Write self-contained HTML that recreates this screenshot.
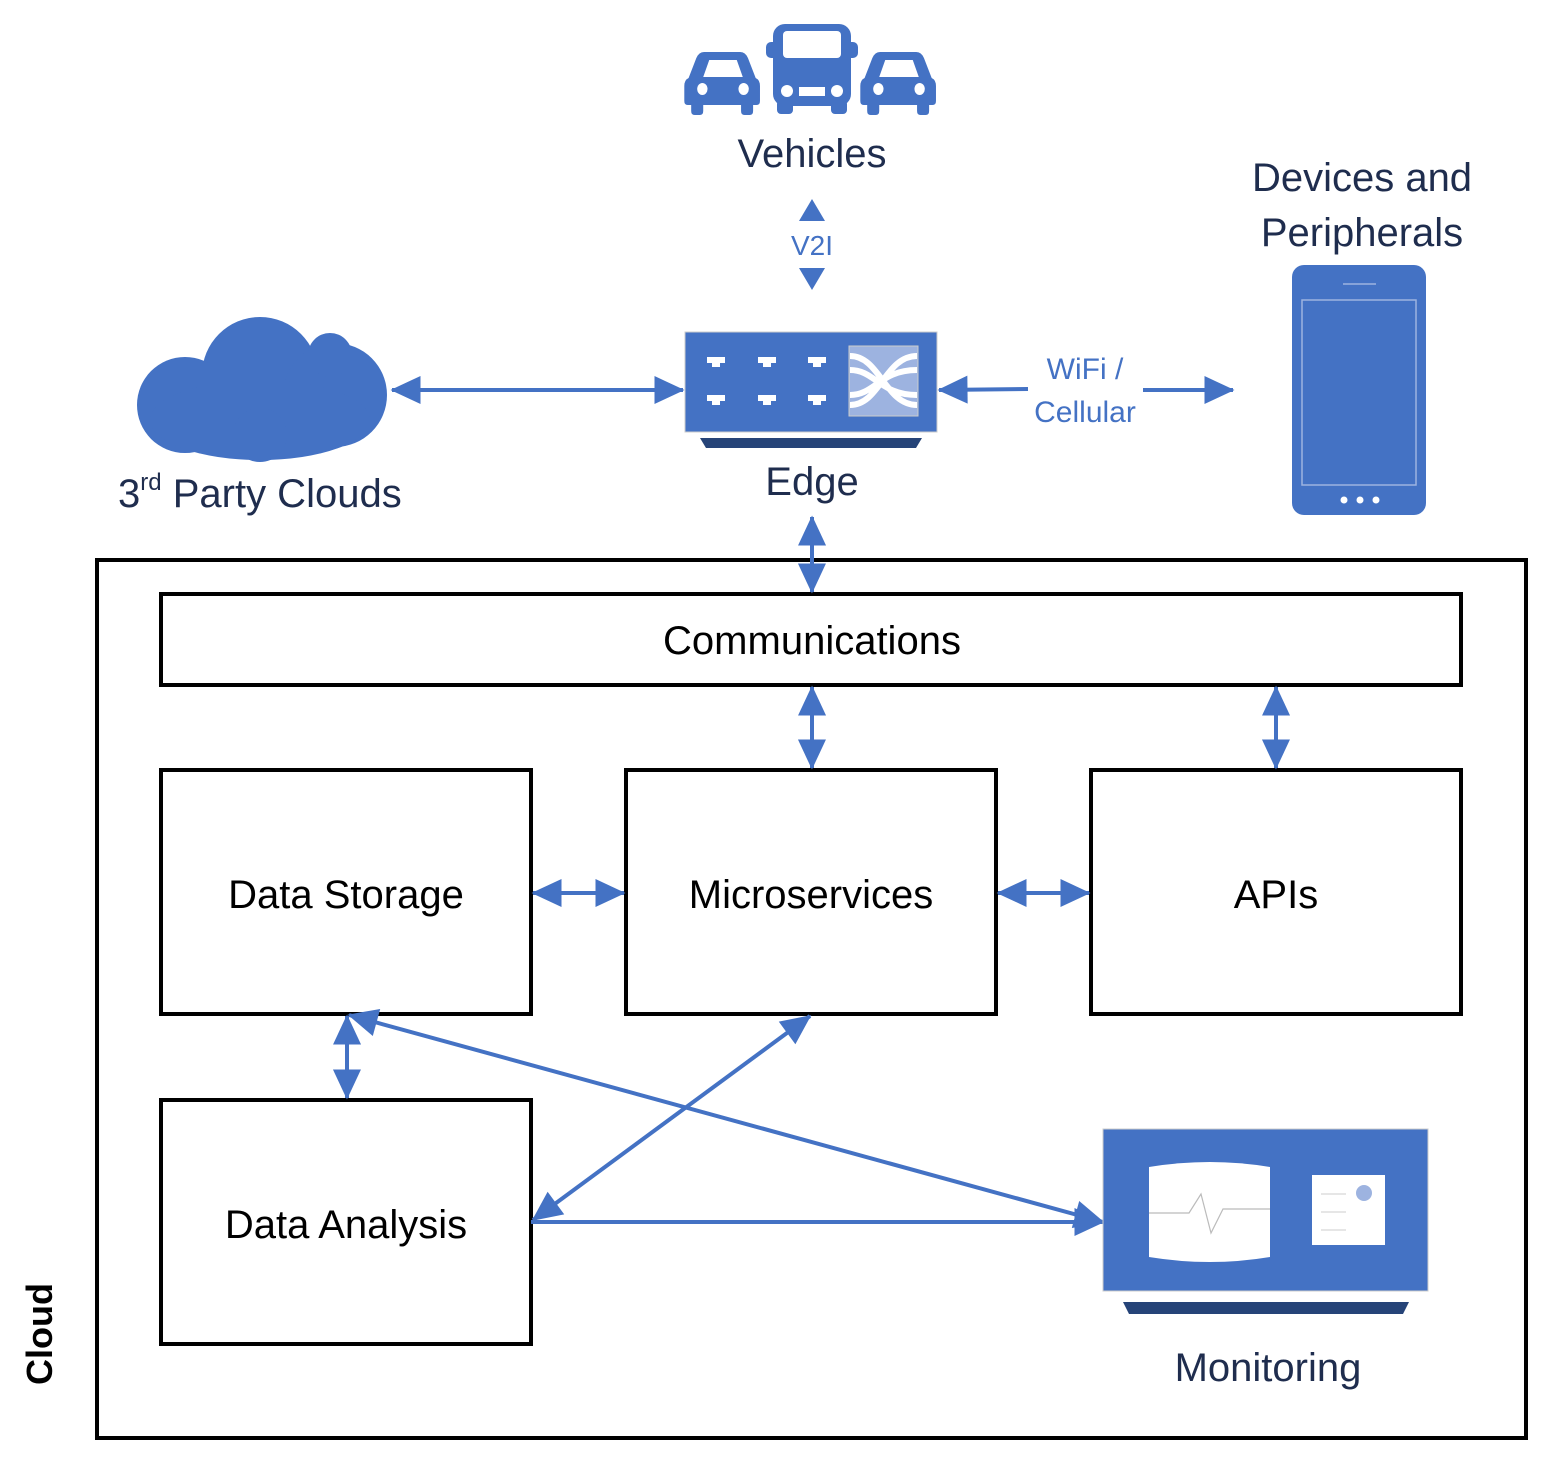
<!DOCTYPE html>
<html><head><meta charset="utf-8"><style>
html,body{margin:0;padding:0;background:#fff;}
svg text{font-family:"Liberation Sans",sans-serif;}
</style></head><body>
<svg width="1552" height="1456" viewBox="0 0 1552 1456" xmlns="http://www.w3.org/2000/svg">
<defs>
<marker id="a" markerWidth="10" markerHeight="10" refX="9" refY="5" orient="auto-start-reverse" markerUnits="userSpaceOnUse" viewBox="0 0 10 10" style="overflow:visible">
<path d="M0,0 L10,5 L0,10 Z" fill="#4472C4" transform="scale(3,2.8) translate(-6.5,-3.2)"/>
</marker>
<g id="car">
<path d="M700,52 h40 q6,0 9,6 l9,20 q5,2 5,8 v15 q0,4 -4,4 h-4 v6 q0,4 -4,4 h-6 q-4,0 -4,-4 v-6 h-44 v6 q0,4 -4,4 h-6 q-4,0 -4,-4 v-6 h-4 q-4,0 -4,-4 v-15 q0,-6 5,-8 l9,-20 q3,-6 9,-6z" fill="#4472C4"/>
<path d="M704,60 h32 l7,17 h-46z" fill="#fff"/>
<circle cx="696" cy="89" r="6" fill="#fff"/><circle cx="744" cy="89" r="6" fill="#fff"/>
</g>
</defs>
<g transform="translate(723,0) scale(0.86,1) translate(-720,0)"><use href="#car"/></g>
<g transform="translate(899,0) scale(0.86,1) translate(-720,0)"><use href="#car"/></g>
<g fill="#4472C4">
<rect x="773" y="24" width="78" height="82" rx="12"/>
<rect x="766" y="42" width="92" height="16" rx="5"/>
<rect x="777" y="100" width="16" height="14" rx="4"/><rect x="831" y="100" width="16" height="14" rx="4"/>
</g>
<g fill="#fff">
<rect x="783" y="31" width="58" height="27" rx="4"/>
<circle cx="787" cy="91" r="6"/><circle cx="837" cy="91" r="6"/>
<rect x="799" y="87" width="26" height="9"/>
</g>
<text x="812" y="167" font-size="40" fill="#1F2D4E" text-anchor="middle">Vehicles</text>
<path d="M812,199 L825,221 L799,221Z M812,290 L825,268 L799,268Z" fill="#4472C4"/>
<text x="812" y="255" font-size="28" fill="#4472C4" text-anchor="middle">V2I</text>
<rect x="685" y="332" width="252" height="100" fill="#4472C4" stroke="#ccc" stroke-width="1"/>
<path d="M700,438 H922 L916,448 H706Z" fill="#264478"/>
<g fill="#fff">
<rect x="707" y="357" width="18" height="6"/><rect x="712" y="363" width="8" height="4"/>
<rect x="758" y="357" width="18" height="6"/><rect x="763" y="363" width="8" height="4"/>
<rect x="808" y="357" width="18" height="6"/><rect x="813" y="363" width="8" height="4"/>
<rect x="707" y="395" width="18" height="6"/><rect x="712" y="401" width="8" height="4"/>
<rect x="758" y="395" width="18" height="6"/><rect x="763" y="401" width="8" height="4"/>
<rect x="808" y="395" width="18" height="6"/><rect x="813" y="401" width="8" height="4"/>
</g>
<rect x="849" y="346" width="69" height="70" fill="#9DB3E0" stroke="#ccc"/>
<path d="M850,356 C880,356 885,405 917,405 M850,370 C875,370 880,395 917,395 M850,405 C880,405 885,356 917,356 M850,395 C875,395 880,370 917,370" stroke="#fff" stroke-width="6" fill="none"/>
<text x="812" y="495" font-size="40" fill="#1F2D4E" text-anchor="middle">Edge</text>
<g fill="#4472C4">
<circle cx="260" cy="375" r="58"/><circle cx="185" cy="405" r="48"/><circle cx="335" cy="395" r="52"/>
<circle cx="330" cy="355" r="22"/><ellipse cx="260" cy="420" rx="110" ry="40"/>
<circle cx="260" cy="435" r="27"/>
</g>
<text x="118" y="507" font-size="40" fill="#1F2D4E">3<tspan font-size="24" dy="-17">rd</tspan><tspan dy="17"> Party Clouds</tspan></text>
<line x1="392" y1="390" x2="683" y2="390" stroke="#4472C4" stroke-width="4" marker-start="url(#a)" marker-end="url(#a)"/>
<line x1="939" y1="390" x2="1028" y2="389" stroke="#4472C4" stroke-width="4" marker-start="url(#a)"/>
<line x1="1143" y1="390" x2="1233" y2="390" stroke="#4472C4" stroke-width="4" marker-end="url(#a)"/>
<text x="1085" y="379" font-size="30" fill="#4472C4" text-anchor="middle">WiFi /</text>
<text x="1085" y="422" font-size="30" fill="#4472C4" text-anchor="middle">Cellular</text>
<text x="1362" y="191" font-size="40" fill="#1F2D4E" text-anchor="middle">Devices and</text>
<text x="1362" y="246" font-size="40" fill="#1F2D4E" text-anchor="middle">Peripherals</text>
<rect x="1292" y="265" width="134" height="250" rx="12" fill="#4472C4"/>
<rect x="1302" y="300" width="114" height="185" fill="none" stroke="#9DB3E0" stroke-width="1.5"/>
<line x1="1343" y1="284" x2="1376" y2="284" stroke="#9DB3E0" stroke-width="1.5"/>
<circle cx="1344" cy="500" r="3.5" fill="#fff"/><circle cx="1360" cy="500" r="3.5" fill="#fff"/><circle cx="1376" cy="500" r="3.5" fill="#fff"/>
<rect x="97" y="560" width="1429" height="878" fill="none" stroke="#000" stroke-width="4"/>
<text transform="translate(52,1385) rotate(-90)" font-size="36" font-weight="bold" fill="#000">Cloud</text>
<g fill="#fff" stroke="#000" stroke-width="4">
<rect x="161" y="594" width="1300" height="91"/>
<rect x="161" y="770" width="370" height="244"/>
<rect x="626" y="770" width="370" height="244"/>
<rect x="1091" y="770" width="370" height="244"/>
<rect x="161" y="1100" width="370" height="244"/>
</g>
<g font-size="40" fill="#000" text-anchor="middle">
<text x="812" y="654">Communications</text>
<text x="346" y="908">Data Storage</text>
<text x="811" y="908">Microservices</text>
<text x="1276" y="908">APIs</text>
<text x="346" y="1238">Data Analysis</text>
</g>
<g stroke="#4472C4" stroke-width="4" marker-start="url(#a)" marker-end="url(#a)">
<line x1="812" y1="517" x2="812" y2="592"/>
<line x1="812" y1="687" x2="812" y2="768"/>
<line x1="1276" y1="687" x2="1276" y2="768"/>
<line x1="533" y1="893" x2="624" y2="893"/>
<line x1="998" y1="893" x2="1089" y2="893"/>
<line x1="347" y1="1016" x2="347" y2="1098"/>
<line x1="533" y1="1220" x2="810" y2="1016"/>
<line x1="349" y1="1015" x2="1103" y2="1222"/>
</g>
<line x1="531" y1="1222" x2="1103" y2="1222" stroke="#4472C4" stroke-width="4" marker-end="url(#a)"/>
<rect x="1103" y="1129" width="325" height="162" fill="#4472C4" stroke="#ccc"/>
<path d="M1123,1302 H1409 L1403,1314 H1129Z" fill="#264478"/>
<path d="M1149,1167 Q1210,1157 1270,1167 V1257 Q1210,1267 1149,1257Z" fill="#fff"/>
<path d="M1149,1213 H1189 L1201,1194 L1211,1233 L1223,1209 H1270" stroke="#bbb" stroke-width="1.2" fill="none"/>
<rect x="1312" y="1175" width="73" height="70" fill="#fff"/>
<circle cx="1364" cy="1193" r="8" fill="#9DB3E0"/>
<g stroke="#ccc" stroke-width="1"><line x1="1321" y1="1194" x2="1346" y2="1194"/><line x1="1321" y1="1212" x2="1346" y2="1212"/><line x1="1321" y1="1230" x2="1346" y2="1230"/></g>
<text x="1268" y="1381" font-size="40" fill="#1F2D4E" text-anchor="middle">Monitoring</text>
</svg>
</body></html>
